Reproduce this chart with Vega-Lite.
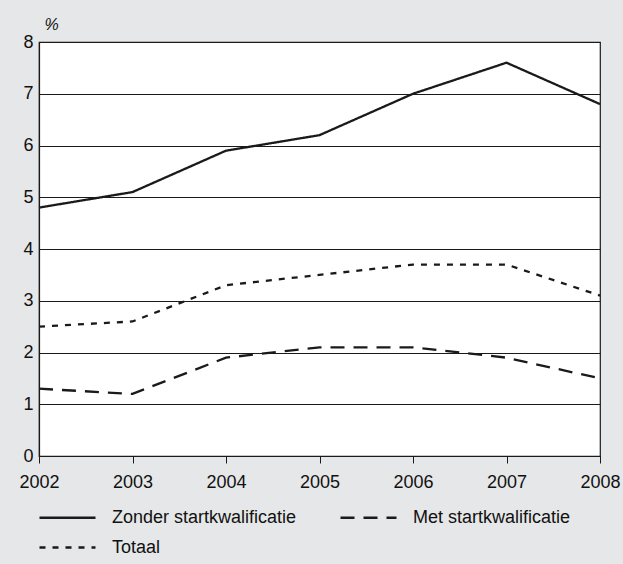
{
  "$schema": "https://vega.github.io/schema/vega-lite/v6.json",
  "autosize": "none",
  "width": 561,
  "height": 414,
  "padding": {"left": 39, "top": 42, "right": 23, "bottom": 108},
  "background": "#e6e7e8",
  "config": {
    "font": "Liberation Sans",
    "view": {"fill": "white", "stroke": "#1a1a1a", "strokeWidth": 1.2},
    "axis": {"labelFont": "Liberation Sans", "labelColor": "#111111", "labelFontSize": 18, "domainColor": "#1a1a1a", "tickColor": "#1a1a1a"},
    "legend": {"symbolType": "stroke", "symbolSize": 3136, "symbolStrokeWidth": 2.5, "symbolStrokeColor": "#1a1a1a", "labelFont": "Liberation Sans", "labelFontSize": 18, "labelColor": "#111111", "labelOffset": 15, "labelLimit": 0, "padding": 0}
  },
  "data": {
    "values": [
      {"jaar": 2002, "reeks": "Zonder startkwalificatie", "pct": 4.8},
      {"jaar": 2003, "reeks": "Zonder startkwalificatie", "pct": 5.1},
      {"jaar": 2004, "reeks": "Zonder startkwalificatie", "pct": 5.9},
      {"jaar": 2005, "reeks": "Zonder startkwalificatie", "pct": 6.2},
      {"jaar": 2006, "reeks": "Zonder startkwalificatie", "pct": 7.0},
      {"jaar": 2007, "reeks": "Zonder startkwalificatie", "pct": 7.6},
      {"jaar": 2008, "reeks": "Zonder startkwalificatie", "pct": 6.8},
      {"jaar": 2002, "reeks": "Met startkwalificatie", "pct": 1.3},
      {"jaar": 2003, "reeks": "Met startkwalificatie", "pct": 1.2},
      {"jaar": 2004, "reeks": "Met startkwalificatie", "pct": 1.9},
      {"jaar": 2005, "reeks": "Met startkwalificatie", "pct": 2.1},
      {"jaar": 2006, "reeks": "Met startkwalificatie", "pct": 2.1},
      {"jaar": 2007, "reeks": "Met startkwalificatie", "pct": 1.9},
      {"jaar": 2008, "reeks": "Met startkwalificatie", "pct": 1.5},
      {"jaar": 2002, "reeks": "Totaal", "pct": 2.5},
      {"jaar": 2003, "reeks": "Totaal", "pct": 2.6},
      {"jaar": 2004, "reeks": "Totaal", "pct": 3.3},
      {"jaar": 2005, "reeks": "Totaal", "pct": 3.5},
      {"jaar": 2006, "reeks": "Totaal", "pct": 3.7},
      {"jaar": 2007, "reeks": "Totaal", "pct": 3.7},
      {"jaar": 2008, "reeks": "Totaal", "pct": 3.1}
    ]
  },
  "encoding": {
    "x": {
      "field": "jaar", "type": "quantitative",
      "scale": {"domain": [2002, 2008], "nice": false, "zero": false},
      "axis": {"values": [2002, 2003, 2004, 2005, 2006, 2007, 2008], "format": "d", "title": null, "grid": false, "tickSize": 7, "labelPadding": 10, "labelFlush": false, "domainWidth": 1.2}
    },
    "y": {
      "field": "pct", "type": "quantitative",
      "scale": {"domain": [0, 8], "nice": false},
      "axis": {"values": [0, 1, 2, 3, 4, 5, 6, 7, 8], "title": "%", "titleAngle": 0, "titleAlign": "left", "titleBaseline": "bottom", "titleX": 5, "titleY": -10, "titleFont": "Liberation Sans", "titleFontSize": 16, "titleFontWeight": "normal", "titleFontStyle": "italic", "titleColor": "#111111", "ticks": false, "labelPadding": 6, "grid": true, "gridColor": "#1a1a1a", "gridWidth": 1, "domainWidth": 1.2}
    }
  },
  "layer": [
    {
      "transform": [{"filter": "datum.reeks !== 'Totaal'"}],
      "mark": {"type": "line", "strokeWidth": 2.3, "color": "#1a1a1a"},
      "encoding": {
        "strokeDash": {
          "field": "reeks", "type": "nominal",
          "scale": {"domain": ["Zonder startkwalificatie", "Met startkwalificatie"], "range": [[1, 0], [14, 9]]},
          "legend": {"title": null, "orient": "none", "legendX": -1, "legendY": 446, "direction": "horizontal", "columns": 2, "columnPadding": 38}
        }
      }
    },
    {
      "transform": [{"filter": "datum.reeks === 'Totaal'"}],
      "mark": {"type": "line", "strokeWidth": 2.3, "color": "#1a1a1a"},
      "encoding": {
        "strokeDash": {
          "field": "reeks", "type": "nominal",
          "scale": {"domain": ["Totaal"], "range": [[6, 7]]},
          "legend": {"title": null, "orient": "none", "legendX": -1, "legendY": 476, "direction": "horizontal"}
        }
      }
    }
  ],
  "resolve": {"scale": {"strokeDash": "independent"}, "legend": {"strokeDash": "independent"}}
}
